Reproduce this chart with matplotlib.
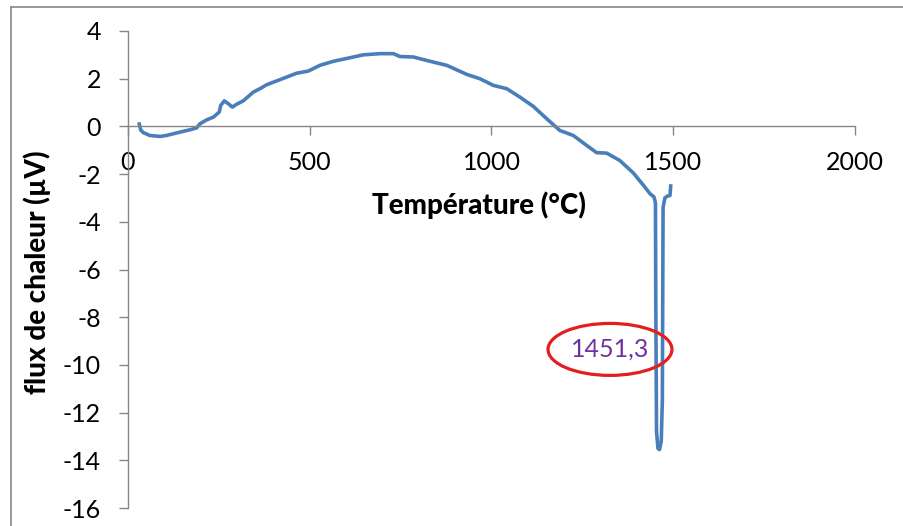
import matplotlib
matplotlib.use("Agg")
import matplotlib.pyplot as plt
from matplotlib.patches import Ellipse
from matplotlib.lines import Line2D

# DTA curve
temperature = [31, 35, 42, 60, 88, 106, 143, 171, 189, 198, 216, 235, 251, 255, 265,
               276, 287, 299, 317, 345, 363, 382, 418, 464, 496, 528, 565, 611, 647,
               693, 730, 748, 785, 831, 877, 932, 968, 1005, 1042, 1078, 1115, 1152,
               1188, 1225, 1262, 1289, 1317, 1353, 1390, 1418, 1436, 1447, 1451, 1452,
               1454, 1458, 1462, 1467, 1470, 1472, 1477, 1484, 1491, 1493]
flux = [0.10, -0.15, -0.26, -0.38, -0.42, -0.38, -0.24, -0.14, -0.06, 0.11, 0.27, 0.39,
        0.60, 0.88, 1.07, 0.95, 0.81, 0.93, 1.07, 1.44, 1.58, 1.75, 1.96, 2.23, 2.32,
        2.56, 2.73, 2.88, 3.00, 3.05, 3.05, 2.93, 2.91, 2.73, 2.56, 2.18, 2.00, 1.72,
        1.58, 1.23, 0.84, 0.32, -0.17, -0.38, -0.80, -1.10, -1.12, -1.43, -1.95, -2.47,
        -2.82, -2.96, -3.20, -7.40, -12.80, -13.50, -13.55, -13.20, -11.50, -3.40, -3.00,
        -2.92, -2.90, -2.50]

x_ticks = [0, 500, 1000, 1500, 2000]
y_ticks = [4, 2, 0, -2, -4, -6, -8, -10, -12, -14, -16]
peak_label = "1451,3"
peak_pos = (1326, -9.35)

plt.rcParams['font.family'] = ['Lato', 'DejaVu Sans']
grey = '#868686'

fig = plt.figure(figsize=(9.04, 5.26), dpi=100)
ax = fig.add_axes([128/904, 18/526, 727/904, 477/526])

ax.plot(temperature, flux, color='#4A7EBB', lw=2.6, solid_joinstyle='round')

ax.set_xlim(0, 2000)
ax.set_ylim(-16, 4)
ax.set_xticks(x_ticks)
ax.set_yticks(y_ticks)
ax.set_yticklabels([str(v) for v in y_ticks])

ax.spines['top'].set_visible(False)
ax.spines['right'].set_visible(False)
ax.spines['bottom'].set_position(('data', 0))
for s in ('left', 'bottom'):
    ax.spines[s].set_color(grey)
    ax.spines[s].set_linewidth(1)

ax.tick_params(axis='both', direction='out', length=6.5, width=1, color=grey,
               labelsize=18, labelcolor='black')
ax.tick_params(axis='y', pad=13)
ax.tick_params(axis='x', pad=11)

# peak annotation
ax.add_patch(Ellipse(peak_pos, 341, 2.18, fill=False, edgecolor='#E41E1E', lw=2.3, zorder=4))
ax.text(peak_pos[0], peak_pos[1], peak_label, color='#7030A0', fontsize=18,
        ha='center', va='center', zorder=5)

fig.text(479/904, 1 - 205/526, 'Température (°C)', fontsize=20, fontweight='black',
         ha='center', va='center')
fig.text(37/904, 1 - 272/526, 'flux de chaleur (µV)', fontsize=20, fontweight='black',
         rotation=90, ha='center', va='center')

# chart border
fig.add_artist(Line2D([10.5/904, 1], [1 - 6.5/526, 1 - 6.5/526], color=grey, lw=1.2,
                      transform=fig.transFigure))
fig.add_artist(Line2D([10.5/904, 10.5/904], [0, 1 - 6.5/526], color=grey, lw=1.2,
                      transform=fig.transFigure))

fig.savefig('out.png', dpi=100)
